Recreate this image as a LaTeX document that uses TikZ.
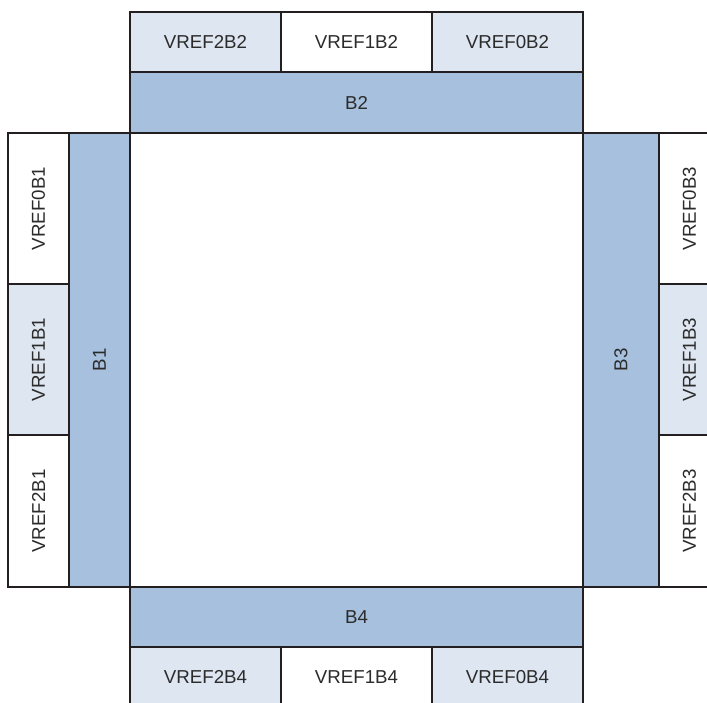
\documentclass[tikz,border=0pt]{standalone}
\usepackage{fontspec}
\setmainfont{Liberation Sans}
\definecolor{bblue}{HTML}{A6C0DE}
\definecolor{blight}{HTML}{DEE6F1}
\definecolor{lineC}{HTML}{231F20}
\definecolor{txtC}{HTML}{2B2B2B}
\begin{document}
\begin{tikzpicture}[x=1pt,y=-1pt,
  box/.style={draw=lineC,line width=2.7pt,inner sep=0pt,text=txtC,
    font=\fontsize{18.7}{20}\selectfont},
  dark/.style={box,fill=bblue},
  light/.style={box,fill=blight},
  plain/.style={box,fill=white},
  sz/.style 2 args={minimum width=#1pt,minimum height=#2pt}]
\clip (0,0) rectangle (707,703);
\fill[white] (0,0) rectangle (707,703);
% core
\node[plain,sz={453}{454}] (core) at (356.5,360) {};
% top
\node[light,sz={151}{60}] (v2b2) at (205.5,42) {VREF2B2};
\node[plain,sz={151}{60}] (v1b2) at (356.5,42) {VREF1B2};
\node[light,sz={151}{60}] (v0b2) at (507.5,42) {VREF0B2};
\node[dark,sz={453}{61}] (b2) at (356.5,102.5) {B2};
% left
\node[dark,sz={61}{454}] (b1) at (99.5,360) {\rotatebox{90}{B1}};
\node[plain,sz={61}{151}] (v0b1) at (38.5,208.5) {\rotatebox{90}{VREF0B1}};
\node[light,sz={61}{151}] (v1b1) at (38.5,359.5) {\rotatebox{90}{VREF1B1}};
\node[plain,sz={61}{152}] (v2b1) at (38.5,511) {\rotatebox{90}{VREF2B1}};
% right
\node[dark,sz={76}{454}] (b3) at (621,360) {\rotatebox{90}{B3}};
\node[plain,sz={61}{151}] (v0b3) at (689.5,208.5) {\rotatebox{90}{VREF0B3}};
\node[light,sz={61}{151}] (v1b3) at (689.5,359.5) {\rotatebox{90}{VREF1B3}};
\node[plain,sz={61}{152}] (v2b3) at (689.5,511) {\rotatebox{90}{VREF2B3}};
% bottom
\node[dark,sz={453}{60}] (b4) at (356.5,617) {B4};
\node[light,sz={151}{60}] (v2b4) at (205.5,677) {VREF2B4};
\node[plain,sz={151}{60}] (v1b4) at (356.5,677) {VREF1B4};
\node[light,sz={151}{60}] (v0b4) at (507.5,677) {VREF0B4};
\end{tikzpicture}
\end{document}
